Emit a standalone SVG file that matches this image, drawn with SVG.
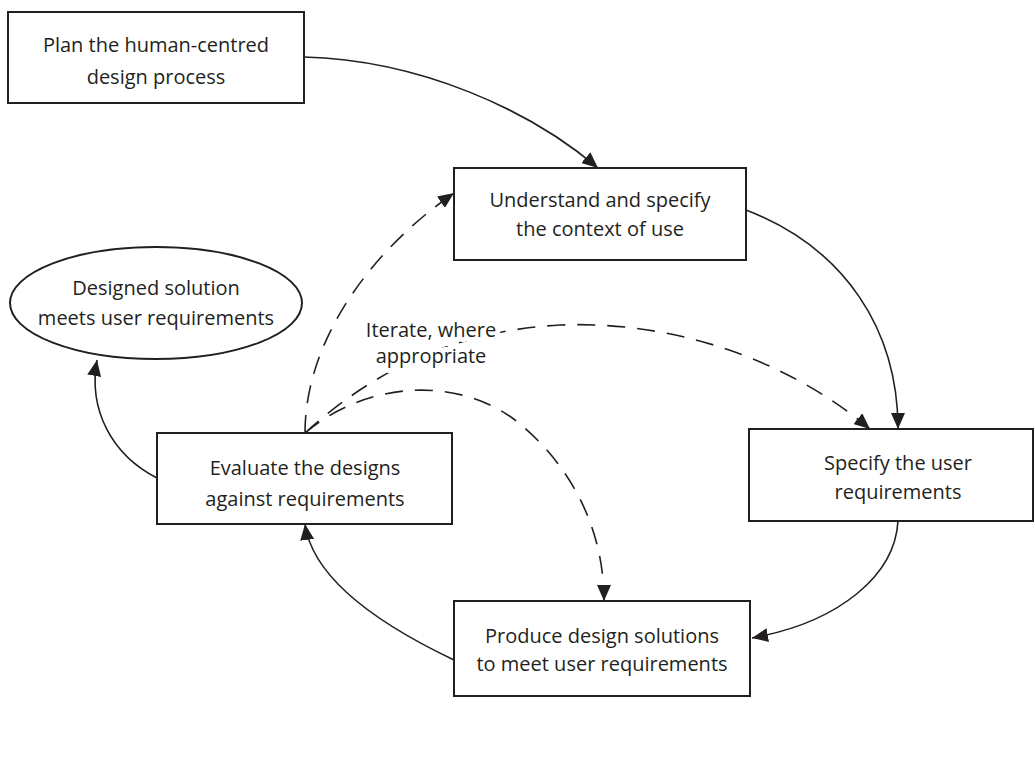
<svg xmlns="http://www.w3.org/2000/svg" width="1035" height="781" viewBox="0 0 1035 781">
<style>
.box{fill:#fff;stroke:#231f20;stroke-width:2}
.t{font-family:"Open Sans","Noto Sans",sans-serif;font-size:20px;fill:#231f20;text-anchor:middle}
.c{fill:none;stroke:#231f20;stroke-width:1.6}
.d{fill:none;stroke:#231f20;stroke-width:1.6;stroke-dasharray:18 12}
.halo{paint-order:stroke;stroke:#fff;stroke-width:10;stroke-linejoin:round}
</style>
<defs>
<marker id="ah" viewBox="0 0 16 14" refX="16" refY="7" markerWidth="16" markerHeight="14" markerUnits="userSpaceOnUse" orient="auto">
<path d="M0,0 L16,7 L0,14 Z" fill="#231f20"/>
</marker>
</defs>
<g id="connectors">
<path class="c" d="M304,57 C420,60 530,110 598,168" marker-end="url(#ah)"/>
<path class="c" d="M746,210 C845,248 898,330 898,429" marker-end="url(#ah)"/>
<path class="c" d="M898,521 C895,575 840,622 752,638" marker-end="url(#ah)"/>
<path class="c" d="M454,660 C370,620 312,575 305,524" marker-end="url(#ah)"/>
<path class="c" d="M157,478 C112,455 88,410 97,360" marker-end="url(#ah)"/>
<path class="d" d="M305,433 C305,345 365,255 454,193" marker-end="url(#ah)"/>
<path class="d" d="M305,433 C385,360 470,330 560,325 C690,320 800,370 870,429" marker-end="url(#ah)"/>
<path class="d" d="M305,433 C365,382 455,375 515,420 C572,465 604,530 604,601" marker-end="url(#ah)"/>
</g>
<g id="label-iterate">
<text class="t halo" x="431" y="337">Iterate, where</text>
<text class="t halo" x="431" y="363">appropriate</text>
</g>
<g id="plan">
<rect class="box" x="8" y="12" width="296" height="91"/>
<text class="t" x="156" y="52">Plan the human-centred</text>
<text class="t" x="156" y="84">design process</text>
</g>
<g id="understand">
<rect class="box" x="454" y="168" width="292" height="92"/>
<text class="t" x="600" y="207">Understand and specify</text>
<text class="t" x="600" y="236">the context of use</text>
</g>
<g id="designed">
<ellipse class="box" cx="156" cy="303" rx="146" ry="56"/>
<text class="t" x="156" y="295">Designed solution</text>
<text class="t" x="156" y="325">meets user requirements</text>
</g>
<g id="evaluate">
<rect class="box" x="157" y="433" width="295" height="91"/>
<text class="t" x="305" y="475">Evaluate the designs</text>
<text class="t" x="305" y="506">against requirements</text>
</g>
<g id="specify">
<rect class="box" x="749" y="429" width="284" height="92"/>
<text class="t" x="898" y="470">Specify the user</text>
<text class="t" x="898" y="499">requirements</text>
</g>
<g id="produce">
<rect class="box" x="454" y="601" width="296" height="95"/>
<text class="t" x="602" y="643">Produce design solutions</text>
<text class="t" x="602" y="671">to meet user requirements</text>
</g>
</svg>
